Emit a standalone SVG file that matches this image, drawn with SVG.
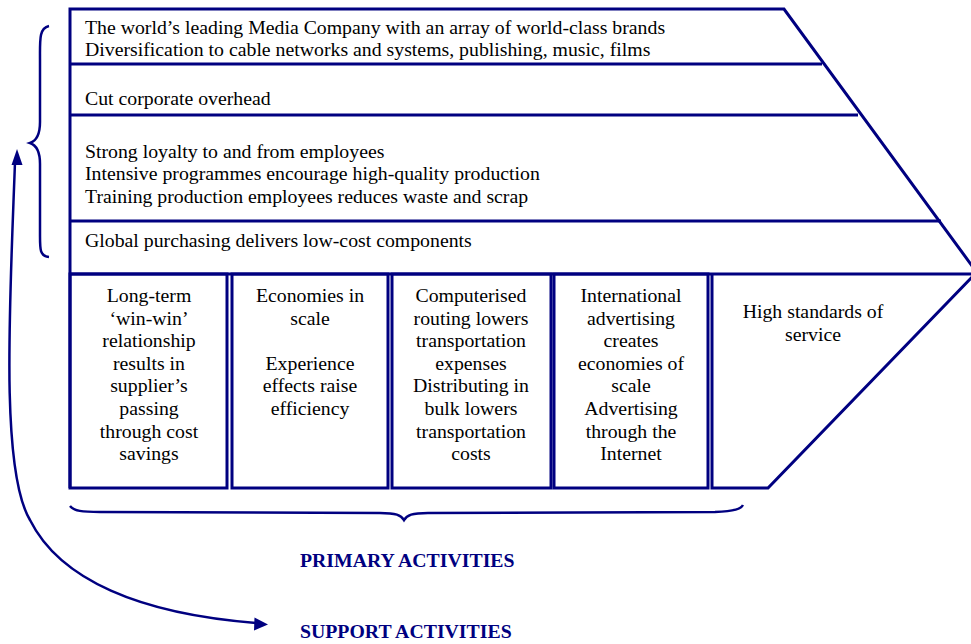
<svg xmlns="http://www.w3.org/2000/svg" width="971" height="644" viewBox="0 0 971 644">
<defs>
<style>
.ln{fill:none;stroke:#000080;stroke-width:3}
.br{fill:none;stroke:#000080;stroke-width:2.5}
.ah{fill:#000080;stroke:none}
.t{font-family:"Liberation Serif","Times New Roman",serif;font-size:19.8px;fill:#000}
.c{text-anchor:middle}
.lbl{font-family:"Liberation Serif","Times New Roman",serif;font-size:19.8px;font-weight:bold;fill:#000080}
</style>
</defs>
<rect width="971" height="644" fill="#fff"/>

<g id="support-frame">
<polyline class="ln" points="70,488 70,9 784,9 978,274"/>
<line class="ln" x1="70" y1="64" x2="822" y2="64"/>
<line class="ln" x1="70" y1="115" x2="858" y2="115"/>
<line class="ln" x1="70" y1="221" x2="941" y2="221"/>
<line class="ln" x1="70" y1="274" x2="971" y2="274"/>
</g>

<g id="firm-infrastructure">
<text class="t" x="85" y="34">The world’s leading Media Company with an array of world-class brands</text>
<text class="t" x="85" y="56">Diversification to cable networks and systems, publishing, music, films</text>
</g>
<g id="hrm">
<text class="t" x="85" y="105">Cut corporate overhead</text>
</g>
<g id="technology">
<text class="t" x="85" y="158">Strong loyalty to and from employees</text>
<text class="t" x="85" y="180">Intensive programmes encourage high-quality production</text>
<text class="t" x="85" y="203">Training production employees reduces waste and scrap</text>
</g>
<g id="procurement">
<text class="t" x="85" y="247">Global purchasing delivers low-cost components</text>
</g>

<g id="inbound">
<rect class="ln" x="70" y="274" width="157" height="214"/>
<text class="t c" x="149" y="302">Long-term</text>
<text class="t c" x="149" y="324.6">‘win-win’</text>
<text class="t c" x="149" y="347.2">relationship</text>
<text class="t c" x="149" y="369.8">results in</text>
<text class="t c" x="149" y="392.4">supplier’s</text>
<text class="t c" x="149" y="415">passing</text>
<text class="t c" x="149" y="437.6">through cost</text>
<text class="t c" x="149" y="460.2">savings</text>
</g>
<g id="operations">
<rect class="ln" x="232" y="274" width="156" height="214"/>
<text class="t c" x="310" y="302">Economies in</text>
<text class="t c" x="310" y="324.6">scale</text>
<text class="t c" x="310" y="369.8">Experience</text>
<text class="t c" x="310" y="392.4">effects raise</text>
<text class="t c" x="310" y="415">efficiency</text>
</g>
<g id="outbound">
<rect class="ln" x="392" y="274" width="159" height="214"/>
<text class="t c" x="471" y="302">Computerised</text>
<text class="t c" x="471" y="324.6">routing lowers</text>
<text class="t c" x="471" y="347.2">transportation</text>
<text class="t c" x="471" y="369.8">expenses</text>
<text class="t c" x="471" y="392.4">Distributing in</text>
<text class="t c" x="471" y="415">bulk lowers</text>
<text class="t c" x="471" y="437.6">transportation</text>
<text class="t c" x="471" y="460.2">costs</text>
</g>
<g id="marketing">
<rect class="ln" x="554" y="274" width="154" height="214"/>
<text class="t c" x="631" y="302">International</text>
<text class="t c" x="631" y="324.6">advertising</text>
<text class="t c" x="631" y="347.2">creates</text>
<text class="t c" x="631" y="369.8">economies of</text>
<text class="t c" x="631" y="392.4">scale</text>
<text class="t c" x="631" y="415">Advertising</text>
<text class="t c" x="631" y="437.6">through the</text>
<text class="t c" x="631" y="460.2">Internet</text>
</g>
<g id="service">
<polyline class="ln" points="712,274 712,488 768,488 977,272"/>
<text class="t c" x="813" y="318">High standards of</text>
<text class="t c" x="813" y="341">service</text>
</g>

<g id="connectors">
<path class="br" d="M49,26 C39,28 40,40 40,60 L40,122 C40,136 36,141 30,143 C36,145 40,150 40,164 L40,236 C40,250 40,256 49,257"/>
<path class="br" d="M70,506 C74,511 82,512 100,512 L380,513 C396,513 401,515 404,520 C407,515 412,513 428,513 L715,512 C735,511 741,509 743,505"/>
<path class="br" d="M15,162 C10,300 0,470 30,520 C60,580 140,614 257,623"/>
<path class="ah" d="M17,149 L22.5,165 L11.5,165 z"/>
<path class="ah" d="M268,624.5 L254.5,617.5 L254,630.5 z"/>
</g>

<g id="labels">
<text class="lbl" x="300" y="567">PRIMARY ACTIVITIES</text>
<text class="lbl" x="300" y="638">SUPPORT ACTIVITIES</text>
</g>
</svg>
